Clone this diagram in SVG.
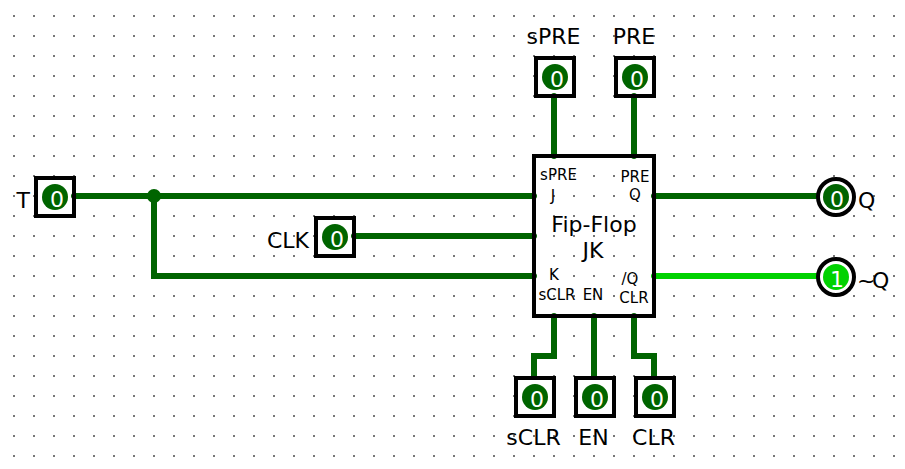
<svg xmlns="http://www.w3.org/2000/svg" width="905" height="469" viewBox="0 0 905 469">
<style>
text{font-family:"DejaVu Sans",sans-serif;fill:#000}
.l{font-size:22px}
.s{font-size:15px}
.m{text-anchor:middle}
.e{text-anchor:end}
.v{font-size:22px;fill:#fff;text-anchor:middle}
.w{fill:none;stroke-width:6;stroke-linecap:round;stroke-linejoin:miter}
.d{stroke:#006400}
.h{stroke:#00d200}
.b{fill:none;stroke:#000;stroke-width:4}
.c{fill:#006400}
.c1{fill:#00d200}
</style>
<defs>
<pattern id="grid" x="13" y="15" width="20" height="20" patternUnits="userSpaceOnUse"><rect width="2" height="2" fill="#777"/></pattern>
</defs>
<rect width="905" height="469" fill="#fff"/>
<rect width="905" height="469" fill="url(#grid)"/>
<g id="connectors">
<path class="w d" d="M74 196H534"/>
<path class="w d" d="M154 196V276H534"/>
<circle cx="154" cy="196" r="7" class="c"/>
<path class="w d" d="M354 236H534"/>
<path class="w d" d="M554 96V156"/>
<path class="w d" d="M634 96V156"/>
<path class="w d" d="M654 196H816"/>
<path class="w h" d="M654 276H816"/>
<path class="w d" d="M554 316V356H534V376"/>
<path class="w d" d="M594 316V376"/>
<path class="w d" d="M634 316V356H654V376"/>
</g>
<g id="flipflop">
<rect x="534" y="156" width="120" height="160" class="b"/>
<text class="s m" x="558.5" y="180">sPRE</text>
<text class="s m" x="635" y="182">PRE</text>
<text class="s m" x="553" y="201">J</text>
<text class="s m" x="635" y="200">Q</text>
<text class="l m" x="594" y="232">Fip-Flop</text>
<text class="l m" x="593" y="258">JK</text>
<text class="s m" x="554" y="280">K</text>
<text class="s m" x="630" y="284">/Q</text>
<text class="s m" x="557" y="300">sCLR</text>
<text class="s m" x="593" y="300">EN</text>
<text class="s m" x="634" y="303">CLR</text>
</g>
<g id="pin-T">
<rect x="36" y="178" width="38" height="38" class="b"/>
<circle cx="55" cy="197" r="13" class="c"/>
<text class="v" x="57" y="207">0</text>
<text class="l e" x="30" y="208">T</text>
</g>
<g id="pin-CLK">
<rect x="316" y="218" width="38" height="38" class="b"/>
<circle cx="335" cy="237" r="13" class="c"/>
<text class="v" x="337" y="247">0</text>
<text class="l e" x="309" y="248">CLK</text>
</g>
<g id="pin-sPRE">
<rect x="536" y="58" width="38" height="38" class="b"/>
<circle cx="555" cy="77" r="13" class="c"/>
<text class="v" x="557" y="87">0</text>
<text class="l m" x="553.5" y="44">sPRE</text>
</g>
<g id="pin-PRE">
<rect x="616" y="58" width="38" height="38" class="b"/>
<circle cx="635" cy="77" r="13" class="c"/>
<text class="v" x="637" y="87">0</text>
<text class="l m" x="634" y="44">PRE</text>
</g>
<g id="pin-sCLR">
<rect x="516" y="378" width="38" height="38" class="b"/>
<circle cx="535" cy="397" r="13" class="c"/>
<text class="v" x="537" y="407">0</text>
<text class="l m" x="533.5" y="445">sCLR</text>
</g>
<g id="pin-EN">
<rect x="576" y="378" width="38" height="38" class="b"/>
<circle cx="595" cy="397" r="13" class="c"/>
<text class="v" x="597" y="407">0</text>
<text class="l m" x="593.5" y="445">EN</text>
</g>
<g id="pin-CLR">
<rect x="636" y="378" width="38" height="38" class="b"/>
<circle cx="655" cy="397" r="13" class="c"/>
<text class="v" x="657" y="407">0</text>
<text class="l m" x="653.5" y="445">CLR</text>
</g>
<g id="out-Q">
<circle cx="836" cy="197" r="18" class="b"/>
<circle cx="836" cy="197" r="13" class="c"/>
<text class="v" x="837" y="207">0</text>
<text class="l" x="858" y="208">Q</text>
</g>
<g id="out-nQ">
<circle cx="836" cy="277" r="18" class="b"/>
<circle cx="836" cy="277" r="13" class="c1"/>
<text class="v" x="837" y="287">1</text>
<text class="l" x="857 872" y="288">~Q</text>
</g>
</svg>
